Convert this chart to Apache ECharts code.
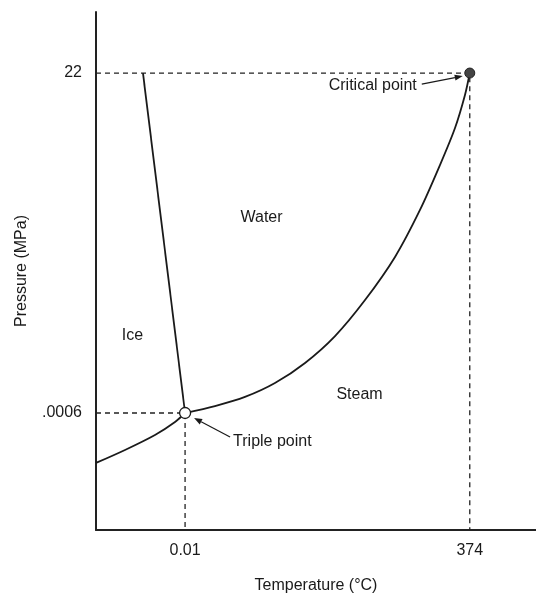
<!DOCTYPE html>
<html>
<head>
<meta charset="utf-8">
<title>Phase diagram of water</title>
<script src="https://cdn.jsdelivr.net/npm/echarts@6/dist/echarts.min.js"></script>
<style>
  body { margin: 0; padding: 0; background: #fff; }
  #main { width: 536px; height: 595px; }
</style>
</head>
<body>
<div id="main"></div>
<script>
// axis range (schematic, not to scale)
var tMin = -117, tMax = 461;
var pMin = -7.57, pMax = 25.95;

// labelled ticks
var tTicks = [0.01, 374];
var pTicks = [0.0006, 22];
var pTickText = ['.0006', '22'];

// special points
var tripleT = 0.01, tripleP = 0.0006;
var criticalT = 374, criticalP = 22;

// ice / steam boundary (sublimation)
var subT = [-117, -78.9, -39.5, -13.2, 0.01];
var subP = [-3.23, -2.39, -1.42, -0.58, 0.0006];

// ice / water boundary (melting)
var meltT = [0.01, -55.3];
var meltP = [0.0006, 22];

// water / steam boundary (boiling)
var vapT = [0.01, 39.3, 78.7, 118.1, 157.6, 197.0, 236.4, 275.8, 308.6, 334.9, 354.6, 367.7, 374];
var vapP = [0.0006, 0.45, 1.04, 1.94, 3.24, 4.98, 7.31, 10.10, 13.14, 16.05, 18.44, 20.58, 22];

// region names
var regionNames = ['Ice', 'Water', 'Steam'];
var regionT = [-68.4, 101.1, 229.8];
var regionP = [4.98, 12.62, 1.17];

var FONT = "'Liberation Sans', Arial, Helvetica, sans-serif";
var INK = '#1a1a1a';

function zip(xs, ys) {
  return xs.map(function (x, i) { return [x, ys[i]]; });
}

var chart = echarts.init(document.getElementById('main'));

var option = {
  animation: false,
  backgroundColor: '#fff',
  textStyle: { fontFamily: FONT },
  grid: { left: 96, top: 12, right: 0, bottom: 65, containLabel: false, outerBoundsMode: 'none' },
  xAxis: {
    type: 'value',
    min: tMin,
    max: tMax,
    name: 'Temperature (°C)',
    nameLocation: 'middle',
    nameGap: 48,
    nameTextStyle: { fontSize: 16, color: INK, fontFamily: FONT },
    axisLine: { onZero: false, lineStyle: { color: '#222', width: 2 } },
    axisTick: { show: false },
    splitLine: { show: false },
    axisLabel: {
      customValues: tTicks,
      fontSize: 16,
      color: INK,
      margin: 13,
      fontFamily: FONT,
      formatter: function (v) { return String(v); }
    }
  },
  yAxis: {
    type: 'value',
    min: pMin,
    max: pMax,
    name: 'Pressure (MPa)',
    nameLocation: 'middle',
    nameRotate: 90,
    nameGap: 66,
    nameTextStyle: { fontSize: 16, color: INK, fontFamily: FONT },
    axisLine: { onZero: false, lineStyle: { color: '#222', width: 2 } },
    axisTick: { show: false },
    splitLine: { show: false },
    axisLabel: {
      customValues: pTicks,
      fontSize: 16,
      color: INK,
      margin: 14,
      fontFamily: FONT,
      formatter: function (v) {
        var i = pTicks.indexOf(v);
        return i >= 0 ? pTickText[i] : '';
      }
    }
  },
  series: [
    // dashed guides to the critical point
    {
      type: 'line',
      symbol: 'none',
      lineStyle: { color: '#222', width: 1.3, type: [5, 4] },
      data: [[tMin, criticalP], [criticalT, criticalP], [criticalT, pMin]],
      z: 1
    },
    // dashed guides to the triple point
    {
      type: 'line',
      symbol: 'none',
      lineStyle: { color: '#222', width: 1.3, type: [5, 4] },
      data: [[tMin, tripleP], [tripleT, tripleP], [tripleT, pMin]],
      z: 1
    },
    // sublimation curve
    {
      type: 'line',
      symbol: 'none',
      smooth: 0.3,
      lineStyle: { color: INK, width: 1.8 },
      data: zip(subT, subP),
      z: 2
    },
    // melting line
    {
      type: 'line',
      symbol: 'none',
      lineStyle: { color: INK, width: 1.8 },
      data: zip(meltT, meltP),
      z: 2
    },
    // boiling curve
    {
      type: 'line',
      symbol: 'none',
      smooth: 0.3,
      lineStyle: { color: INK, width: 1.8 },
      data: zip(vapT, vapP),
      z: 2
    },
    // triple point
    {
      type: 'scatter',
      symbol: 'circle',
      symbolSize: 11,
      itemStyle: { color: '#fff', borderColor: INK, borderWidth: 1.3, opacity: 1 },
      data: [[tripleT, tripleP]],
      z: 5
    },
    // critical point
    {
      type: 'scatter',
      symbol: 'circle',
      symbolSize: 10,
      itemStyle: { color: '#444', borderColor: '#222', borderWidth: 1, opacity: 1 },
      data: [[criticalT, criticalP]],
      z: 5
    },
    // region names
    {
      type: 'scatter',
      symbolSize: 1,
      silent: true,
      itemStyle: { color: 'rgba(0,0,0,0)' },
      label: {
        show: true,
        position: [0, 0],
        align: 'center',
        verticalAlign: 'middle',
        fontSize: 16,
        color: INK,
        opacity: 1,
        fontFamily: FONT,
        formatter: function (p) { return p.data.name; }
      },
      data: regionNames.map(function (n, i) {
        return { name: n, value: [regionT[i], regionP[i]] };
      }),
      z: 4
    }
  ]
};

chart.setOption(option);

// annotations with arrows, placed relative to the points
function arrow(tail, tip) {
  var dx = tip[0] - tail[0], dy = tip[1] - tail[1];
  var len = Math.sqrt(dx * dx + dy * dy);
  var ux = dx / len, uy = dy / len;
  var hl = 8, hw = 3;
  var bx = tip[0] - ux * hl, by = tip[1] - uy * hl;
  return [
    {
      type: 'line',
      shape: { x1: tail[0], y1: tail[1], x2: bx, y2: by },
      style: { stroke: INK, lineWidth: 1.2 },
      z: 10
    },
    {
      type: 'polygon',
      shape: { points: [tip, [bx - uy * hw, by + ux * hw], [bx + uy * hw, by - ux * hw]] },
      style: { fill: INK },
      z: 10
    }
  ];
}

var cp = chart.convertToPixel({ gridIndex: 0 }, [criticalT, criticalP]);
var tp = chart.convertToPixel({ gridIndex: 0 }, [tripleT, tripleP]);

var graphics = []
  .concat(arrow([cp[0] - 48, cp[1] + 11], [cp[0] - 7, cp[1] + 3]))
  .concat(arrow([tp[0] + 45, tp[1] + 24], [tp[0] + 9, tp[1] + 5]));

graphics.push({
  type: 'text',
  x: cp[0] - 53,
  y: cp[1] + 13,
  style: { text: 'Critical point', font: '16px ' + FONT, fill: INK, align: 'right', verticalAlign: 'middle' },
  z: 10
});
graphics.push({
  type: 'text',
  x: tp[0] + 48,
  y: tp[1] + 29,
  style: { text: 'Triple point', font: '16px ' + FONT, fill: INK, align: 'left', verticalAlign: 'middle' },
  z: 10
});

chart.setOption({ graphic: graphics });

window.addEventListener('resize', function () {
  chart.resize();
});
</script>
</body>
</html>
